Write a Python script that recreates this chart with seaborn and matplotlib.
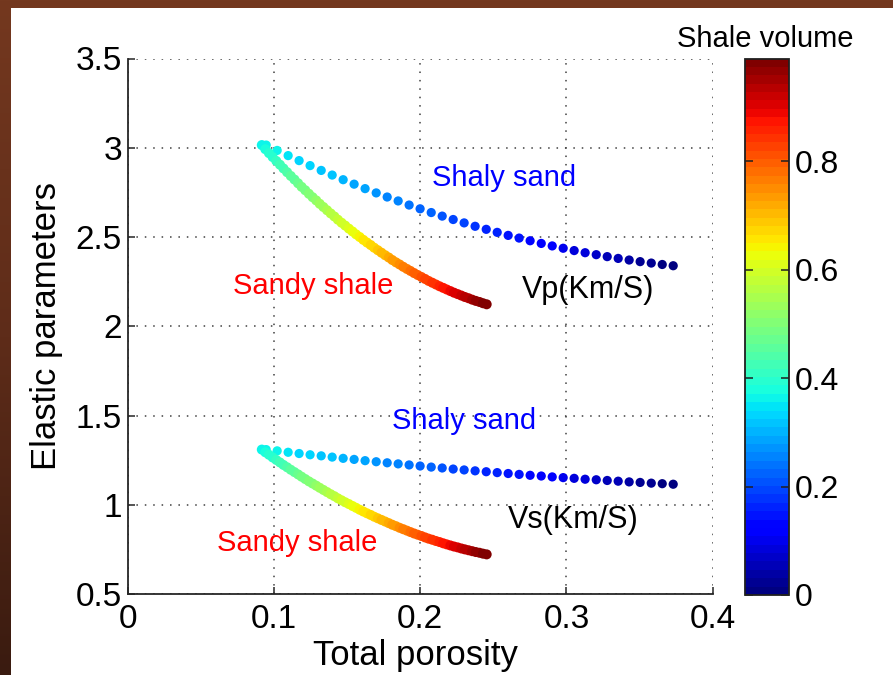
import numpy as np
import pandas as pd
import matplotlib
matplotlib.use("Agg")
import matplotlib as mpl
import matplotlib.pyplot as plt
from matplotlib.patches import Rectangle
from matplotlib.colors import LinearSegmentedColormap, Normalize
from matplotlib.ticker import FormatStrFormatter
import seaborn as sns

# ---------------- data ----------------
# Shaly sand branch: shale volume 0 -> 0.37
shaly_vsh = [0.00, 0.01, 0.02, 0.03, 0.04, 0.05, 0.06, 0.07, 0.08, 0.09,
             0.10, 0.11, 0.12, 0.13, 0.14, 0.15, 0.16, 0.17, 0.18, 0.19,
             0.20, 0.21, 0.22, 0.23, 0.24, 0.25, 0.26, 0.27, 0.28, 0.29,
             0.30, 0.31, 0.32, 0.33, 0.34, 0.35, 0.36, 0.37]
shaly_phi = [0.3730, 0.3655, 0.3580, 0.3504, 0.3429, 0.3354, 0.3279, 0.3204, 0.3128, 0.3053,
             0.2978, 0.2903, 0.2828, 0.2752, 0.2677, 0.2602, 0.2527, 0.2452, 0.2376, 0.2301,
             0.2226, 0.2151, 0.2076, 0.2000, 0.1925, 0.1850, 0.1775, 0.1700, 0.1624, 0.1549,
             0.1474, 0.1399, 0.1324, 0.1248, 0.1173, 0.1098, 0.1023, 0.0948]
shaly_vp = [2.339, 2.346, 2.354, 2.362, 2.371, 2.380, 2.390, 2.401, 2.412, 2.424,
            2.437, 2.450, 2.464, 2.479, 2.494, 2.509, 2.526, 2.543, 2.560, 2.579,
            2.598, 2.617, 2.637, 2.658, 2.679, 2.702, 2.724, 2.747, 2.771, 2.796,
            2.821, 2.847, 2.873, 2.900, 2.928, 2.956, 2.985, 3.015]
shaly_vs = [1.115, 1.118, 1.121, 1.125, 1.128, 1.132, 1.136, 1.140, 1.143, 1.148,
            1.152, 1.156, 1.161, 1.165, 1.170, 1.175, 1.180, 1.185, 1.190, 1.195,
            1.200, 1.206, 1.211, 1.217, 1.223, 1.229, 1.235, 1.241, 1.247, 1.254,
            1.260, 1.267, 1.274, 1.280, 1.287, 1.294, 1.302, 1.309]

# Sandy shale branch: shale volume 0.37 -> 0.99
sandy_vsh = [0.37, 0.38, 0.39, 0.40, 0.41, 0.42, 0.43, 0.44, 0.45, 0.46,
             0.47, 0.48, 0.49, 0.50, 0.51, 0.52, 0.53, 0.54, 0.55, 0.56,
             0.57, 0.58, 0.59, 0.60, 0.61, 0.62, 0.63, 0.64, 0.65, 0.66,
             0.67, 0.68, 0.69, 0.70, 0.71, 0.72, 0.73, 0.74, 0.75, 0.76,
             0.77, 0.78, 0.79, 0.80, 0.81, 0.82, 0.83, 0.84, 0.85, 0.86,
             0.87, 0.88, 0.89, 0.90, 0.91, 0.92, 0.93, 0.94, 0.95, 0.96,
             0.97, 0.98, 0.99]
sandy_phi = [0.0918, 0.0942, 0.0967, 0.0992, 0.1017, 0.1042, 0.1066, 0.1091, 0.1116, 0.1141,
             0.1166, 0.1190, 0.1215, 0.1240, 0.1265, 0.1290, 0.1314, 0.1339, 0.1364, 0.1389,
             0.1414, 0.1438, 0.1463, 0.1488, 0.1513, 0.1538, 0.1562, 0.1587, 0.1612, 0.1637,
             0.1662, 0.1686, 0.1711, 0.1736, 0.1761, 0.1786, 0.1810, 0.1835, 0.1860, 0.1885,
             0.1910, 0.1934, 0.1959, 0.1984, 0.2009, 0.2034, 0.2058, 0.2083, 0.2108, 0.2133,
             0.2158, 0.2182, 0.2207, 0.2232, 0.2257, 0.2282, 0.2306, 0.2331, 0.2356, 0.2381,
             0.2406, 0.2430, 0.2455]
sandy_vp = [3.015, 2.992, 2.970, 2.948, 2.926, 2.905, 2.884, 2.863, 2.842, 2.822,
            2.801, 2.781, 2.762, 2.742, 2.723, 2.705, 2.686, 2.668, 2.650, 2.632,
            2.615, 2.597, 2.580, 2.564, 2.547, 2.531, 2.515, 2.500, 2.484, 2.469,
            2.455, 2.440, 2.426, 2.412, 2.398, 2.385, 2.371, 2.358, 2.346, 2.333,
            2.321, 2.310, 2.298, 2.287, 2.276, 2.265, 2.254, 2.244, 2.234, 2.224,
            2.215, 2.206, 2.197, 2.188, 2.180, 2.172, 2.164, 2.157, 2.149, 2.142,
            2.136, 2.129, 2.123]
sandy_vs = [1.309, 1.294, 1.280, 1.265, 1.251, 1.237, 1.223, 1.210, 1.196, 1.183,
            1.170, 1.157, 1.144, 1.131, 1.119, 1.107, 1.095, 1.083, 1.071, 1.059,
            1.048, 1.036, 1.025, 1.014, 1.004, 0.993, 0.983, 0.972, 0.962, 0.952,
            0.943, 0.933, 0.924, 0.915, 0.906, 0.897, 0.888, 0.880, 0.871, 0.863,
            0.855, 0.847, 0.839, 0.832, 0.825, 0.817, 0.810, 0.804, 0.797, 0.791,
            0.784, 0.778, 0.772, 0.766, 0.761, 0.755, 0.750, 0.745, 0.740, 0.735,
            0.731, 0.726, 0.722]

x_ticks = [0, 0.1, 0.2, 0.3, 0.4]
y_ticks = [0.5, 1, 1.5, 2, 2.5, 3, 3.5]
cbar_ticks = [0, 0.2, 0.4, 0.6, 0.8]

# ---------------- figure ----------------
W, H = 893, 675
fig = plt.figure(figsize=(W / 100, H / 100), dpi=100)
plt.rcParams['font.family'] = ['Liberation Sans', 'DejaVu Sans']

# brown slide background with white panel
bg = fig.add_axes([0, 0, 1, 1], zorder=-10)
bgcmap = LinearSegmentedColormap.from_list("bg", ["#74381f", "#5e2c19", "#3a1b10"])
bg.imshow(np.linspace(0, 1, 256)[:, None], extent=[0, 1, 0, 1], cmap=bgcmap,
          aspect='auto', origin='upper')
bg.add_patch(Rectangle((11 / W, 0), 1, 1 - 8 / H, color='white', lw=0))
bg.set_xlim(0, 1)
bg.set_ylim(0, 1)
bg.axis('off')

ax_bottom = 1 - 594 / H
ax_height = (594 - 58.5) / H
ax = fig.add_axes([127.5 / W, ax_bottom, (712.7 - 127.5) / W, ax_height])

cmap = plt.get_cmap('jet', 64)
norm = Normalize(vmin=0, vmax=0.99)

def frame(phi, vel, vsh):
    return pd.DataFrame({'phi': phi, 'vel': vel, 'vsh': vsh})

for df, size in [(frame(shaly_phi, shaly_vp, shaly_vsh), 44),
                 (frame(sandy_phi, sandy_vp, sandy_vsh), 52),
                 (frame(shaly_phi, shaly_vs, shaly_vsh), 44),
                 (frame(sandy_phi, sandy_vs, sandy_vsh), 52)]:
    sns.scatterplot(data=df, x='phi', y='vel', hue='vsh', palette=cmap, hue_norm=norm,
                    s=size, linewidth=0, legend=False, ax=ax, zorder=3)

ax.set_xlim(0, 0.4)
ax.set_ylim(0.5, 3.5)
ax.set_xticks(x_ticks)
ax.set_yticks(y_ticks)
ax.xaxis.set_major_formatter(FormatStrFormatter('%g'))
ax.yaxis.set_major_formatter(FormatStrFormatter('%g'))
ax.grid(True, linestyle=(0, (1, 4.5)), color='#404040', linewidth=1.1)
ax.set_axisbelow(True)
for side in ['top', 'right']:
    ax.spines[side].set_visible(False)
for side in ['left', 'bottom']:
    ax.spines[side].set_color('#262626')
    ax.spines[side].set_linewidth(1.3)
ax.tick_params(axis='both', direction='in', length=5, width=1.1, color='#262626',
               labelsize=24)
ax.tick_params(axis='x', pad=7.5)
ax.tick_params(axis='y', pad=4)

ax.set_xlabel('Total porosity', fontsize=25)
ax.set_ylabel('Elastic parameters', fontsize=25)
ax.xaxis.set_label_coords(0.492, -0.084)
ax.yaxis.set_label_coords(-0.111, 0.5)

# annotations
ax.text(0.208, 2.832, 'Shaly sand', color='#0000ff', fontsize=21, ha='left', va='center')
ax.text(0.072, 2.225, 'Sandy shale', color='#ff0000', fontsize=21, ha='left', va='center')
ax.text(0.2697, 2.203, 'Vp(Km/S)', color='black', fontsize=22, ha='left', va='center')
ax.text(0.1808, 1.467, 'Shaly sand', color='#0000ff', fontsize=21, ha='left', va='center')
ax.text(0.0612, 0.788, 'Sandy shale', color='#ff0000', fontsize=21, ha='left', va='center')
ax.text(0.260, 0.912, 'Vs(Km/S)', color='black', fontsize=22, ha='left', va='center')

# colorbar
cax = fig.add_axes([745 / W, 1 - 595 / H, 44 / W, (595 - 58.5) / H])
sm = mpl.cm.ScalarMappable(norm=norm, cmap=cmap)
cb = fig.colorbar(sm, cax=cax)
cb.outline.set_linewidth(1.3)
cb.outline.set_edgecolor('#202020')
cb.set_ticks(cbar_ticks)
cb.ax.yaxis.set_major_formatter(FormatStrFormatter('%g'))
cb.ax.yaxis.set_ticks_position('both')
cb.ax.tick_params(direction='in', length=6, width=1.1, color='#202020',
                  labelsize=23, pad=4, left=True, right=True, labelleft=False, labelright=True)
fig.text(765 / W, 1 - 47 / H, 'Shale volume', ha='center', va='baseline', fontsize=21)

fig.savefig('out.png', dpi=100)
